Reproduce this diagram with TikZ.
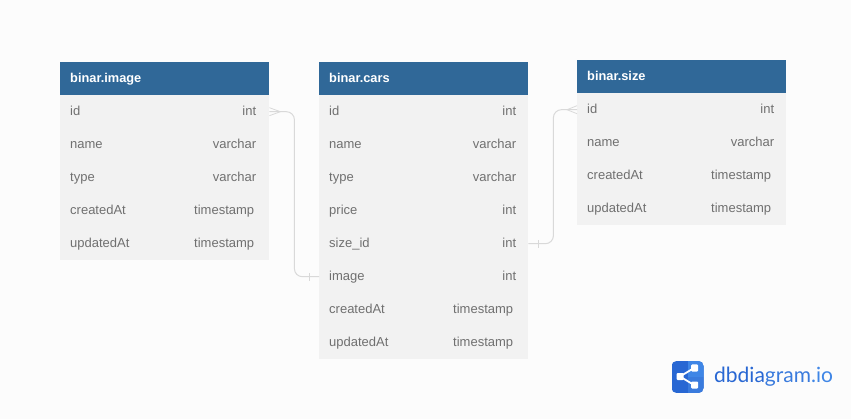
\documentclass[tikz,border=0pt]{standalone}
\usepackage{fontspec}
\setmainfont{Liberation Sans}
\newfontfamily\logofont{Lato}
\definecolor{bgc}{HTML}{FCFCFC}
\definecolor{headc}{HTML}{306898}
\definecolor{rowc}{HTML}{F2F2F2}
\definecolor{txtc}{HTML}{707070}
\definecolor{linec}{HTML}{D9D9D9}
\definecolor{logoa}{HTML}{2867D3}
\definecolor{logob}{HTML}{3F86E6}
\definecolor{logoc}{HTML}{3A7BDD}
\tikzset{
  x=1pt,y=-1pt,
  headbox/.style={rectangle,fill=headc,draw=none,minimum width=209pt,minimum height=33pt,inner sep=0pt,anchor=north west},
  rowbox/.style={rectangle,fill=rowc,draw=none,minimum width=209pt,minimum height=33pt,inner sep=0pt,anchor=north west},
  headtxt/.style={text=white,font=\fontsize{12.8}{15}\selectfont\bfseries,anchor=west,inner sep=0pt,text height=10pt,text depth=3pt},
  nametxt/.style={text=txtc,font=\fontsize{13}{15}\selectfont,anchor=west,inner sep=0pt,text height=10pt,text depth=2.4pt},
  typetxt/.style={text=txtc,font=\fontsize{13}{15}\selectfont,anchor=east,inner sep=0pt,text height=10pt,text depth=2.4pt},
  rel/.style={draw=linec,line width=1pt,rounded corners=8pt},
  relmark/.style={draw=linec,line width=0.8pt},
}
% \dbrow{id}{x}{y}{name}{type}{type right offset from box right}
\newcommand{\dbrow}[6]{%
  \node[rowbox] (#1) at (#2,#3) {};
  \node[nametxt] (#1n) at ([xshift=10pt]#1.west) {#4};
  \node[typetxt] (#1t) at ([xshift=-#6pt]#1.east) {#5};
}
\begin{document}
\begin{tikzpicture}
\useasboundingbox (0,0) rectangle (851,419);
\fill[bgc] (0,0) rectangle (851,419);
% binar.image
\node[headbox] (ih) at (60,62) {};
\node[headtxt] (iht) at ([xshift=10pt]ih.west) {binar.image};
\dbrow{i1}{60}{95}{id}{int}{13}
\dbrow{i2}{60}{128}{name}{varchar}{13}
\dbrow{i3}{60}{161}{type}{varchar}{13}
\dbrow{i4}{60}{194}{createdAt}{timestamp}{15}
\dbrow{i5}{60}{227}{updatedAt}{timestamp}{15}
% binar.cars
\node[headbox] (ch) at (319,62) {};
\node[headtxt] (cht) at ([xshift=10pt]ch.west) {binar.cars};
\dbrow{c1}{319}{95}{id}{int}{12}
\dbrow{c2}{319}{128}{name}{varchar}{12}
\dbrow{c3}{319}{161}{type}{varchar}{12}
\dbrow{c4}{319}{194}{price}{int}{12}
\dbrow{c5}{319}{227}{size\_id}{int}{12}
\dbrow{c6}{319}{260}{image}{int}{12}
\dbrow{c7}{319}{293}{createdAt}{timestamp}{15}
\dbrow{c8}{319}{326}{updatedAt}{timestamp}{15}
% binar.size
\node[headbox] (sh) at (577,60) {};
\node[headtxt] (sht) at ([xshift=10pt]sh.west) {binar.size};
\dbrow{s1}{577}{93}{id}{int}{12}
\dbrow{s2}{577}{126}{name}{varchar}{12}
\dbrow{s3}{577}{159}{createdAt}{timestamp}{15}
\dbrow{s4}{577}{192}{updatedAt}{timestamp}{15}
% relations
\draw[rel] (i1.east) -- ++(25,0) |- (c6.west);
\draw[rel] (c5.east) -- ++(25,0) |- (s1.west);
% crow's feet and bars
\draw[relmark] ([yshift=-4pt]i1.east) -- ([xshift=11pt]i1.east) -- ([yshift=4pt]i1.east);
\draw[relmark] ([yshift=-4pt]s1.west) -- ([xshift=-10pt]s1.west) -- ([yshift=4pt]s1.west);
\draw[relmark] ([xshift=-10pt,yshift=-4pt]c6.west) -- ([xshift=-10pt,yshift=4pt]c6.west);
\draw[relmark] ([xshift=10pt,yshift=-4pt]c5.east) -- ([xshift=10pt,yshift=4pt]c5.east);
% logo
\begin{scope}
  \clip[rounded corners=5pt] (671.5,361) rectangle (703.5,393);
  \fill[logoa] (671.5,361) rectangle (703.5,393);
  \fill[logob] (687.5,361) rectangle (703.5,377);
  \fill[logoc] (687.5,377) rectangle (703.5,393);
\end{scope}
\draw[white,line width=1.8pt] (680,376.5) -- (694,368) (680,376.5) -- (694,385);
\fill[white,rounded corners=1pt] (676.5,373) rectangle (683.5,380);
\fill[white,rounded corners=1pt] (691,364.5) rectangle (698,371.5);
\fill[white,rounded corners=1pt] (691,381.5) rectangle (698,388.5);
\node[anchor=west,inner sep=0pt,font=\logofont\fontsize{21}{24}\selectfont] (logo) at (714,377)
  {\textcolor{logoa}{dbdia}\textcolor{logoc}{gram}\textcolor{logob}{.io}};
\end{tikzpicture}
\end{document}
